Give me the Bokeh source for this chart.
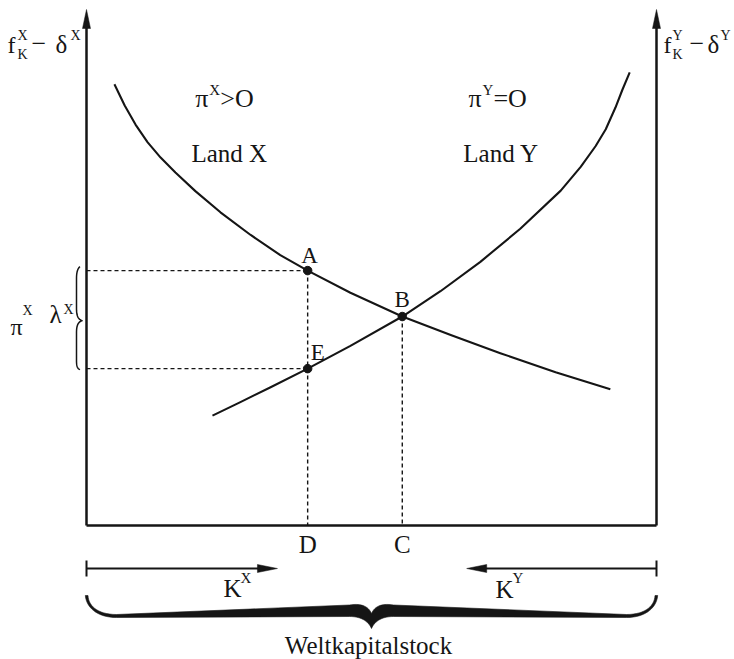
import numpy as np
from bokeh.plotting import figure
from bokeh.models import Range1d, ColumnDataSource
from bokeh.core.properties import value, field
from bokeh.embed import file_html
from bokeh.resources import INLINE

# ---------------- data (diagram units) ----------------
# x: world capital stock measured from the left axis (0 ... 100)
# y: net marginal product of capital (0 ... 100)
curve_x_x = [4.9, 6.7, 8.6, 10.7, 13.0, 15.6, 19.1, 23.5, 28.8, 34.0, 38.8, 46.3, 55.4, 63.9, 72.6, 82.3, 91.9]
curve_x_y = [85.5, 81.4, 77.7, 74.3, 71.3, 68.4, 64.8, 60.7, 56.3, 52.4, 49.4, 45.1, 40.5, 36.9, 33.4, 29.7, 26.4]
curve_y_x = [22.1, 27.0, 32.3, 38.8, 46.3, 55.4, 62.1, 69.1, 76.1, 83.2, 86.7, 89.3, 91.1, 92.8, 94.0, 95.3]
curve_y_y = [21.3, 23.9, 26.8, 30.4, 34.8, 40.5, 45.4, 51.1, 57.5, 64.9, 69.5, 73.5, 76.8, 81.0, 84.4, 87.8]
point_labels = ["A", "E", "B"]
point_x = [38.8, 38.8, 55.4]
point_y = [49.4, 30.4, 40.5]
foot_labels = ["D", "C"]
foot_x = [38.8, 55.4]
axis_left, axis_right, axis_top = 0.0, 100.0, 100.0
kX_arrow_tip, kY_arrow_tip = 33.5, 66.7
region_text = ["Land X", "Land Y"]
region_x = [18.4, 66.1]
region_y = [70.3, 70.3]
profit_sup = ["X", "Y"]
profit_rest = [">O", "=O"]
profit_x = [19.1, 67.0]
profit_y = [80.8, 80.8]

# ---------------- layout / style ----------------
INK = "#151515"
FONT = "Liberation Serif"
SX, SY = 5.7, 5.16          # px per diagram unit
W, H = 734, 659
X0, Y0 = 86, 525            # frame px of diagram origin

p = figure(width=W, height=H,
           x_range=Range1d(-X0 / SX, (W - X0) / SX),
           y_range=Range1d(-(H - Y0) / SY, Y0 / SY),
           output_backend="svg", toolbar_location=None,
           x_axis_type=None, y_axis_type=None, min_border=0)
p.outline_line_color = None
p.background_fill_color = "white"
p.border_fill_color = "white"


def off(xd, yd, dxp, dyp):
    """diagram point shifted by screen pixels (dyp positive = down)"""
    return xd + dxp / SX, yd - dyp / SY


def cubic(p0, p1, p2, p3, n=16):
    t = np.linspace(0, 1, n)[:, None]
    a, b, c, d = (np.array(q, dtype=float) for q in (p0, p1, p2, p3))
    pts = (1 - t) ** 3 * a + 3 * (1 - t) ** 2 * t * b + 3 * (1 - t) * t ** 2 * c + t ** 3 * d
    return [tuple(q) for q in pts]


def to_data(pts, ax, ay):
    return [ax + u / SX for u, v in pts], [ay - v / SY for u, v in pts]


# ---------------- axes ----------------
HEAD_L, HEAD_W = 19, 4
for ax in (axis_left, axis_right):
    p.line([ax, ax], [0, axis_top - (HEAD_L - 3) / SY], line_width=2.5, color=INK)
    p.patch([ax - HEAD_W / SX, ax, ax + HEAD_W / SX],
            [axis_top - HEAD_L / SY, axis_top, axis_top - HEAD_L / SY], color=INK, line_width=0.5)
p.line([axis_left, axis_right], [0, 0], line_width=2.5, color=INK)

# ---------------- curves ----------------
p.line(curve_x_x, curve_x_y, line_width=2.1, color=INK, line_join="round")
p.line(curve_y_x, curve_y_y, line_width=2.1, color=INK, line_join="round")

A = (point_x[0], point_y[0])
E = (point_x[1], point_y[1])
B = (point_x[2], point_y[2])
p.segment(x0=[axis_left, axis_left, A[0], B[0]], y0=[A[1], E[1], A[1], B[1]],
          x1=[A[0], E[0], A[0], B[0]], y1=[A[1], E[1], 0, 0],
          line_dash="4 3", line_width=1.4, color=INK)
p.scatter(point_x, point_y, size=8.5, color=INK)

# ---------------- capital arrows ----------------
kv = 43  # px below baseline
ky = -kv / SY
p.line([axis_left, kX_arrow_tip - 17 / SX], [ky, ky], line_width=1.8, color=INK)
p.patch([kX_arrow_tip - 20 / SX, kX_arrow_tip, kX_arrow_tip - 20 / SX],
        [ky + 4 / SY, ky, ky - 4 / SY], color=INK, line_width=0.5)
p.line([axis_right, kY_arrow_tip + 17 / SX], [ky, ky], line_width=1.8, color=INK)
p.patch([kY_arrow_tip + 20 / SX, kY_arrow_tip, kY_arrow_tip + 20 / SX],
        [ky + 4 / SY, ky, ky - 4 / SY], color=INK, line_width=0.5)
p.segment(x0=[axis_left, axis_right], y0=[ky + 8 / SY] * 2,
          x1=[axis_left, axis_right], y1=[ky - 8 / SY] * 2, line_width=2, color=INK)

# ---------------- big brace (Weltkapitalstock) ----------------
R = (axis_right - axis_left) * SX
M = R / 2
outer = (cubic((-1.2, 70), (0, 83), (12, 92), (30, 92)) +
         [(M - 22, 91)] +
         cubic((M - 22, 91), (M - 10, 91), (M - 3, 96), (M, 103)) +
         cubic((M, 103), (M + 3, 96), (M + 10, 91), (M + 22, 91)) +
         [(R - 30, 92)] +
         cubic((R - 30, 92), (R - 12, 92), (R, 83), (R + 1.2, 70)))
inner = (cubic((R - 1.5, 70), (R - 2, 81), (R - 12, 89), (R - 30, 89)) +
         [(M + 22, 79.5)] +
         cubic((M + 22, 79.5), (M + 10, 77.5), (M + 3, 81), (M, 88)) +
         cubic((M, 88), (M - 3, 81), (M - 10, 77.5), (M - 22, 79.5)) +
         [(30, 89)] +
         cubic((30, 89), (12, 89), (2, 81), (1.5, 70)))
bx, by = to_data(outer + inner, axis_left, 0)
p.patch(bx, by, color=INK, line_width=0.6)

# ---------------- small brace (pi lambda) ----------------
top_v = 0
bot_v = (A[1] - E[1]) * SY
mid_v = bot_v / 2 + 1
sb = (cubic((-6.5, top_v - 4), (-9, top_v - 2), (-10, top_v + 2), (-10, top_v + 8)) +
      cubic((-10, mid_v - 12), (-10, mid_v - 4), (-8, mid_v - 1), (-4, mid_v)) +
      cubic((-4, mid_v), (-8, mid_v + 1), (-10, mid_v + 4), (-10, mid_v + 12)) +
      cubic((-10, bot_v - 8), (-10, bot_v - 2), (-9, bot_v + 0), (-6.5, bot_v + 1)))
sx_, sy_ = to_data(sb, axis_left, A[1])
p.line(sx_, sy_, line_width=1.5, color=INK)

# ---------------- texts ----------------
left_t = dict(x=[], y=[], text=[], size=[])
center_t = dict(x=[], y=[], text=[], size=[])
BASE_FIX = 0.37   # renderer places the alphabetic baseline ~0.37 em low


def put(store, xd, yd, dxp, dyp, t, size):
    x, y = off(xd, yd, dxp, dyp - BASE_FIX * size)
    store["x"].append(x)
    store["y"].append(y)
    store["text"].append(t)
    store["size"].append(f"{size}px")


# axis titles
for dx, dy, t, s in [(-79, 44, "f", 24), (-69, 31, "X", 14), (-69, 50, "K", 14),
                     (-55, 44, "\u2212", 26), (-31, 44, "\u03b4", 25), (-16, 31, "X", 14)]:
    put(left_t, axis_left, axis_top, dx, dy, t, s)
for dx, dy, t, s in [(7, 44, "f", 24), (16, 31, "Y", 14), (16, 50, "K", 14),
                     (33, 44, "\u2212", 26), (51, 44, "\u03b4", 25), (64, 31, "Y", 14)]:
    put(left_t, axis_right, axis_top, dx, dy, t, s)

# pi^X lambda^X
mid_y = (A[1] + E[1]) / 2
for dx, dy, t, s in [(-76, 16, "\u03c0", 24), (-64, -4, "X", 14),
                     (-37, 4, "\u03bb", 25), (-23, -5, "X", 14)]:
    put(left_t, axis_left, mid_y, dx, dy, t, s)

# profit conditions
for px_, py_, sup, rest in zip(profit_x, profit_y, profit_sup, profit_rest):
    put(left_t, px_, py_, 0, 0, "\u03c0", 26)
    put(left_t, px_, py_, 14, -13, sup, 15)
    put(left_t, px_, py_, 25, 0, rest, 26)
for t, x, y in zip(region_text, region_x, region_y):
    put(left_t, x, y, 0, 0, t, 25)

# point labels
for t, x, y, dx, dy in zip(point_labels, point_x, point_y, [2, 10, 0], [-7, -8, -9]):
    put(center_t, x, y, dx, dy, t, 23)
for t, x in zip(foot_labels, foot_x):
    put(center_t, x, 0, 0, 28, t, 25)

# capital labels
put(left_t, axis_left, 0, 137, 72, "K", 25)
put(left_t, axis_left, 0, 154, 58, "X", 15)
put(left_t, axis_right, 0, -161, 73, "K", 25)
put(left_t, axis_right, 0, -144, 58, "Y", 15)
put(center_t, (axis_left + axis_right) / 2, 0, -3, 129, "Weltkapitalstock", 25)

for store, align in ((left_t, "left"), (center_t, "center")):
    p.text(x="x", y="y", text="text", source=ColumnDataSource(store),
           text_font=value(FONT), text_font_size=field("size"),
           text_align=align, text_baseline="alphabetic", text_color=INK)

open("out.html", "w").write(file_html(p, INLINE))
